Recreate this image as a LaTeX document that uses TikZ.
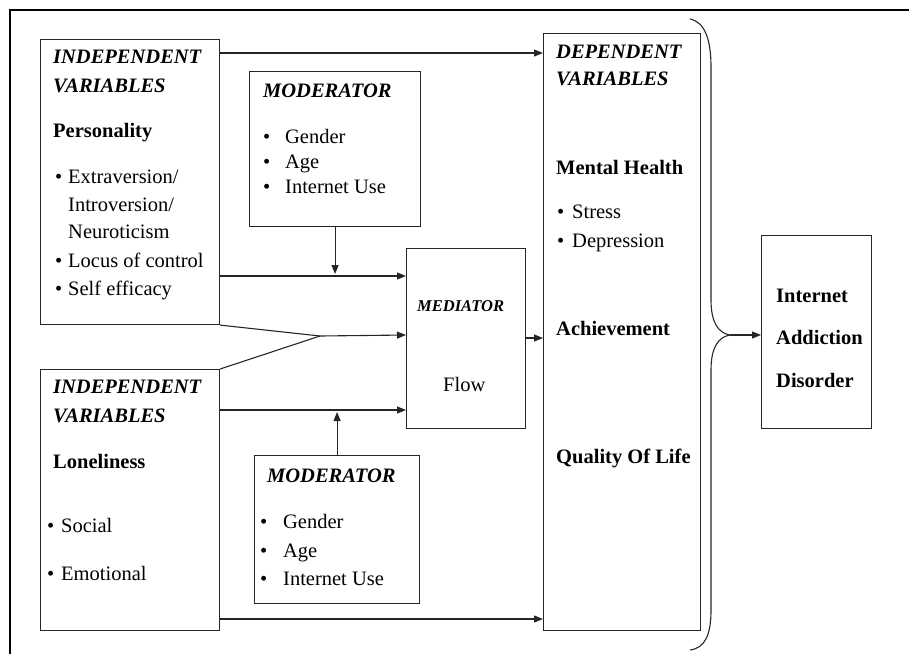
\documentclass[tikz,border=0pt]{standalone}
\usepackage{fontspec}
\setmainfont{Liberation Serif}
\usetikzlibrary{arrows.meta}
\newcommand{\bul}[1][6pt]{\llap{\textbullet\hspace*{#1}}}
\begin{document}
\begin{tikzpicture}[x=1pt,y=-1pt,
  box/.style={draw=black!85,line width=1.1pt,inner sep=0pt,anchor=north west},
  txt/.style={anchor=base west,inner sep=0pt,font=\fontsize{20.5}{24}\selectfont},
  hd/.style={txt,font=\fontsize{20.5}{24}\selectfont\bfseries\itshape},
  bd/.style={txt,font=\fontsize{20.5}{24}\selectfont\bfseries},
  arr/.style={line width=1.1pt,draw=black!85,-{Triangle[length=9pt,width=7pt]}},
  ln/.style={line width=1.1pt,draw=black!85}]
\useasboundingbox (0,0) rectangle (909,654);
% outer frame
\coordinate (fa) at (10,654);
\coordinate (fb) at (10,10);
\coordinate (fc) at (909,10);
\draw[line width=1.3pt] (fa) -- (fb) -- (fc);

% boxes
\node[box,minimum width=179pt,minimum height=285pt] (iv1) at (40,39) {};
\node[box,minimum width=171pt,minimum height=155pt] (m1) at (249,71) {};
\node[box,minimum width=119pt,minimum height=180pt] (med) at (406,248) {};
\node[box,minimum width=179pt,minimum height=261pt] (iv2) at (40,369) {};
\node[box,minimum width=165pt,minimum height=148pt] (m2) at (254,455) {};
\node[box,minimum width=157pt,minimum height=597pt] (dv) at (543,33) {};
\node[box,minimum width=110pt,minimum height=193pt] (iad) at (761,235) {};

% IV1 text
\node[hd] (t1) at (53,63) {INDEPENDENT};
\node[hd] (t2) at (53,92) {VARIABLES};
\node[bd] (t3) at (53,137) {Personality};
\node[txt] (t4) at (68,183) {\bul Extraversion/};
\node[txt] (t5) at (68,211) {Introversion/};
\node[txt] (t6) at (68,238) {Neuroticism};
\node[txt] (t7) at (68,267) {\bul Locus of control};
\node[txt] (t8) at (68,295) {\bul Self efficacy};

% Moderator 1
\node[hd] (u1) at (263,97) {MODERATOR};
\node[txt] (u2) at (285,143) {\bul[15pt]Gender};
\node[txt] (u3) at (285,168) {\bul[15pt]Age};
\node[txt] (u4) at (285,193) {\bul[15pt]Internet Use};

% Mediator
\node[txt,font=\fontsize{16.5}{20}\selectfont\bfseries\itshape] (v1) at (417,311) {MEDIATOR};
\node[txt] (v2) at (443,391) {Flow};

% IV2 text
\node[hd] (w1) at (53,393) {INDEPENDENT};
\node[hd] (w2) at (53,422) {VARIABLES};
\node[bd] (w3) at (53,468) {Loneliness};
\node[txt] (w4) at (61,532) {\bul[7pt]Social};
\node[txt] (w5) at (61,580) {\bul[7pt]Emotional};

% Moderator 2
\node[hd] (x1) at (267,482) {MODERATOR};
\node[txt] (x2) at (283,528) {\bul[16pt]Gender};
\node[txt] (x3) at (283,557) {\bul[16pt]Age};
\node[txt] (x4) at (283,585) {\bul[16pt]Internet Use};

% DV text
\node[hd] (y1) at (556,58) {DEPENDENT};
\node[hd] (y2) at (556,85) {VARIABLES};
\node[bd] (y3) at (556,174) {Mental Health};
\node[txt] (y4) at (572,218) {\bul[8pt]Stress};
\node[txt] (y5) at (572,247) {\bul[8pt]Depression};
\node[bd] (y6) at (556,335) {Achievement};
\node[bd] (y7) at (556,463) {Quality Of Life};

% IAD text
\node[bd] (z1) at (776,302) {Internet};
\node[bd] (z2) at (776,344) {Addiction};
\node[bd] (z3) at (776,387) {Disorder};

% connectors
\draw[arr] (iv1.east |- 0,53) -- (dv.west |- 0,53);
\draw[arr] (m1.south) -- (m1.south |- 0,274);
\draw[arr] (iv1.east |- 0,276) -- (med.west |- 0,276);
\coordinate (j) at (320,336);
\draw[ln] (iv1.south east) -- (j);
\draw[ln] (iv2.north east) -- (j);
\draw[arr] (j) -- (med.west |- 0,335);
\draw[arr] (iv2.east |- 0,410) -- (med.west |- 0,410);
\draw[arr] (m2.north) -- (m2.north |- 0,412);
\draw[arr] (med.east |- 0,338) -- (dv.west |- 0,338);
\draw[arr] (iv2.east |- 0,619) -- (dv.west |- 0,619);

% brace
\coordinate (tip) at (730,335);
\draw[ln] (690,19) .. controls (705,22) and (711,40) .. (711,67) -- (711,300)
  .. controls (711,322) and (718,333) .. (tip)
  .. controls (718,337) and (711,348) .. (711,370) -- (711,610)
  .. controls (711,635) and (705,648) .. (690,650);
\draw[arr] (tip) -- (iad.west |- tip);
\end{tikzpicture}
\end{document}
